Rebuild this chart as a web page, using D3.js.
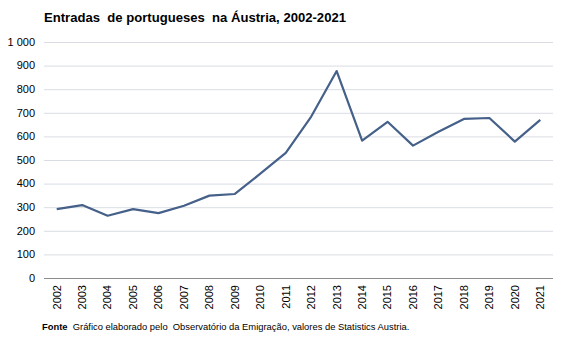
<!DOCTYPE html>
<html><head><meta charset="utf-8">
<script src="https://cdn.jsdelivr.net/npm/d3@7"></script>
<style>body{margin:0;background:#fff;} text{font-family:Arial,"Liberation Sans",sans-serif;}</style>
</head><body>
<svg id="c" width="567" height="340"></svg>
<script>
const years = ["2002","2003","2004","2005","2006","2007","2008","2009","2010","2011","2012","2013","2014","2015","2016","2017","2018","2019","2020","2021"];
const values = [292,309,264,292,275,306,349,356,442,530,684,877,582,662,561,620,674,678,578,670];
const yTicks = [0,100,200,300,400,500,600,700,800,900,1000];
const title = "Entradas  de portugueses  na Áustria, 2002-2021";

const svg = d3.select("#c");
const m = {l:44, r:553, t:42, b:278};
const x = d3.scaleBand().domain(years).range([m.l, m.r]);
const y = d3.scaleLinear().domain([0,1000]).range([m.b, m.t]);
const fmt = v => v >= 1000 ? d3.format(",")(v).replace(",", " ") : String(v);

svg.append("text").attr("x", 44).attr("y", 22).attr("font-size", 13.1).attr("font-weight", "bold")
  .attr("fill", "#000").style("white-space","pre").text(title);

// gridlines
svg.append("g").selectAll("line").data(yTicks.filter(d=>d>0)).join("line")
  .attr("x1", m.l).attr("x2", m.r).attr("y1", d=>y(d)+0.5).attr("y2", d=>y(d)+0.5)
  .attr("stroke", "#d9dde3").attr("stroke-width", 1);

// y labels
svg.append("g").selectAll("text").data(yTicks).join("text")
  .attr("x", 35).attr("y", d=>y(d)).attr("dy", "0.35em").attr("text-anchor", "end")
  .attr("font-size", 11).attr("fill", "#000").text(fmt);

// x axis line
svg.append("line").attr("x1", m.l).attr("x2", m.r).attr("y1", m.b+0.5).attr("y2", m.b+0.5)
  .attr("stroke", "#8c8c8c").attr("stroke-width", 1);

// x labels
svg.append("g").selectAll("text").data(years).join("text")
  .attr("transform", d => `translate(${x(d)+x.bandwidth()/2},285) rotate(-90)`)
  .attr("text-anchor", "end").attr("dy", "0.35em").attr("font-size", 11).attr("fill", "#000").text(d=>d);

// line
const line = d3.line().x((d,i)=>x(years[i])+x.bandwidth()/2).y(d=>y(d));
svg.append("path").datum(values).attr("d", line).attr("fill", "none")
  .attr("stroke", "#456089").attr("stroke-width", 2.2).attr("stroke-linejoin", "round");

// footer
const f = svg.append("text").attr("x", 42).attr("y", 330).attr("font-size", 9.4).attr("fill", "#000").style("white-space","pre");
f.append("tspan").attr("font-weight", "bold").text("Fonte");
f.append("tspan").text("  Gráfico elaborado pelo  Observatório da Emigração, valores de Statistics Austria.");
</script>
</body></html>
